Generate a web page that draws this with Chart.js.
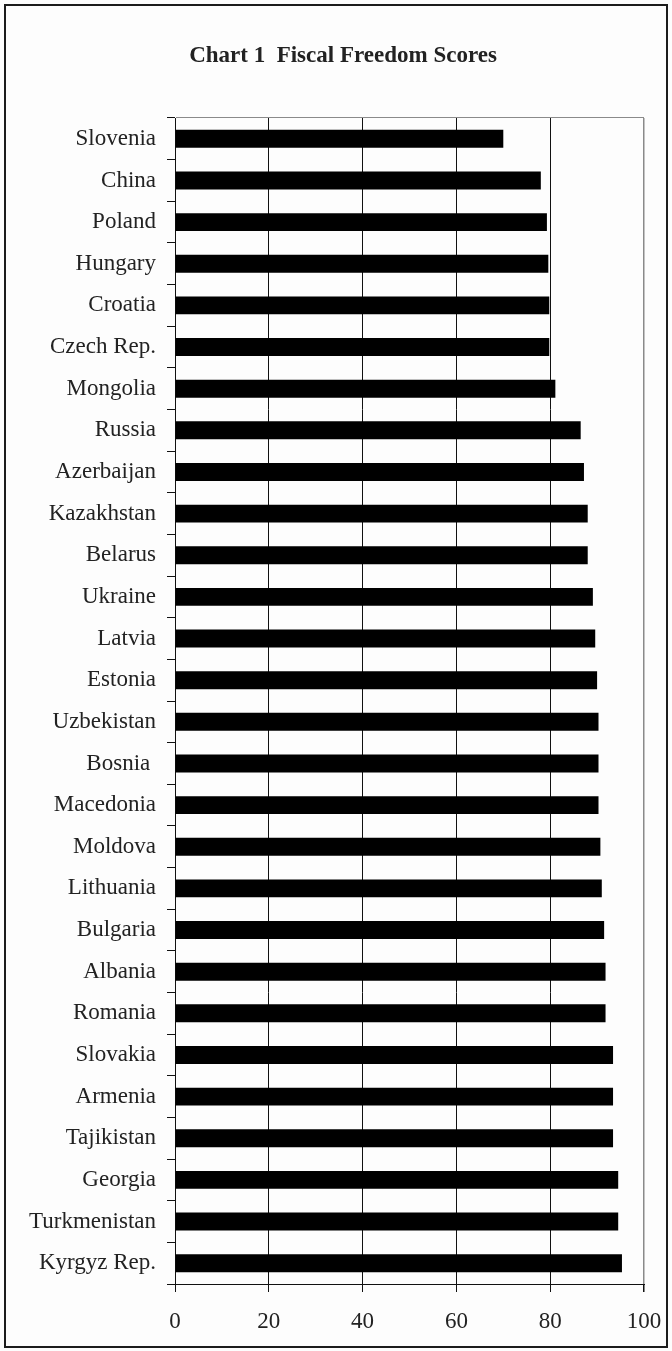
<!DOCTYPE html>
<html>
<head>
<meta charset="utf-8">
<title>Fiscal Freedom Scores</title>
<script src="https://cdn.jsdelivr.net/npm/chart.js@4"></script>
<style>
    body { margin: 0; background: #fdfdfd; }
    #wrap { position: relative; width: 672px; height: 1351px; }
    #frame {
        position: absolute; left: 4px; top: 4px; width: 664px; height: 1344px;
        box-sizing: border-box; border: 2px solid #1c1c1c; pointer-events: none;
    }
</style>
</head>
<body>
<div id="wrap">
    <canvas id="scoreChart" width="672" height="1351"></canvas>
    <div id="frame"></div>
</div>
<script>
// countries, top to bottom
const countries = [
    'Slovenia', 'China', 'Poland', 'Hungary', 'Croatia', 'Czech Rep.', 'Mongolia',
    'Russia', 'Azerbaijan', 'Kazakhstan', 'Belarus', 'Ukraine', 'Latvia', 'Estonia',
    'Uzbekistan', 'Bosnia ', 'Macedonia', 'Moldova', 'Lithuania', 'Bulgaria', 'Albania',
    'Romania', 'Slovakia', 'Armenia', 'Tajikistan', 'Georgia', 'Turkmenistan', 'Kyrgyz Rep.'
];
const scores = [
    70.0, 78.0, 79.3, 79.6, 79.8, 79.8, 81.1,
    86.5, 87.2, 88.0, 88.0, 89.1, 89.6, 90.0,
    90.3, 90.3, 90.3, 90.7, 91.0, 91.5, 91.8,
    91.8, 93.4, 93.4, 93.4, 94.5, 94.5, 95.3
];
const xTicks = [0, 20, 40, 60, 80, 100];
const chartTitle = 'Chart 1  Fiscal Freedom Scores';

const serif = "'Liberation Serif', 'Times New Roman', serif";
const ink = '#222';

// title sits a little right of the canvas centre, so it is drawn by hand
const titlePlugin = {
    id: 'sheetTitle',
    afterDraw(chart) {
        const ctx = chart.ctx;
        ctx.save();
        ctx.font = 'bold 23px ' + serif;
        ctx.fillStyle = ink;
        ctx.textAlign = 'center';
        ctx.textBaseline = 'middle';
        ctx.fillText(chartTitle, 343, 56);
        ctx.restore();
    }
};

new Chart('scoreChart', {
    type: 'bar',
    data: {
        labels: countries,
        datasets: [{
            data: scores,
            backgroundColor: '#000',
            borderWidth: 0,
            categoryPercentage: 1,
            barPercentage: 0.43
        }]
    },
    options: {
        indexAxis: 'y',
        responsive: false,
        animation: false,
        layout: { padding: { left: 0, right: 28, top: 118, bottom: 0 } },
        plugins: {
            legend: { display: false },
            tooltip: { enabled: false },
            title: { display: false }
        },
        scales: {
            x: {
                min: 0,
                max: 100,
                afterBuildTicks: (scale) => {
                    scale.ticks = xTicks.map(v => ({ value: v }));
                },
                afterFit: (scale) => { scale.height = 67; },
                border: { color: '#111', width: 1 },
                grid: {
                    // last line closes the plot on the right, in grey
                    color: (ctx) => ctx.tick && ctx.tick.value === 100 ? '#8a8a8a' : '#111',
                    lineWidth: (ctx) => ctx.tick && ctx.tick.value === 100 ? 1.5 : 1,
                    tickColor: '#111',
                    tickLength: 8
                },
                ticks: {
                    color: ink,
                    padding: 6,
                    maxRotation: 0,
                    // tall line box pushes the numbers down without widening the side padding
                    font: { family: serif, size: 23, lineHeight: 2.05 }
                }
            },
            y: {
                afterFit: (scale) => { scale.width = 175; },
                border: { color: '#111', width: 1 },
                grid: {
                    offset: true,
                    // only the top boundary is drawn across the plot
                    color: (ctx) => ctx.index === 0 ? '#8a8a8a' : 'rgba(0,0,0,0)',
                    tickColor: '#111',
                    tickLength: 8
                },
                ticks: {
                    color: ink,
                    padding: 11,
                    autoSkip: false,
                    font: { family: serif, size: 23, lineHeight: 1.3 }
                }
            }
        }
    },
    plugins: [titlePlugin]
});
</script>
</body>
</html>
